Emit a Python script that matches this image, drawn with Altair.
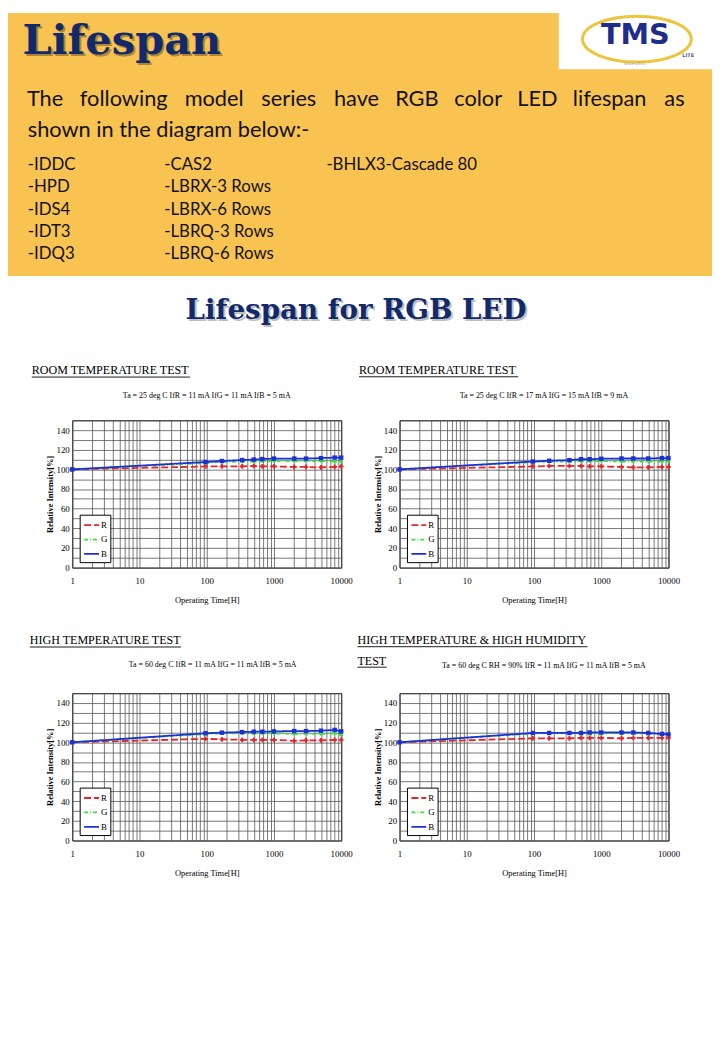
import altair as alt
import pandas as pd

# ---------------- data ----------------
hours = [1, 96, 168, 336, 500, 672, 1000, 2000, 3000, 5000, 8000, 10000]

p1_R = [100, 103, 103, 103, 103.5, 103, 103, 102.5, 102.5, 102, 102.5, 103]
p1_G = [100, 106.5, 107.5, 108, 108, 108.5, 108.5, 108.5, 108.5, 108.5, 108, 108]
p1_B = [100, 107.5, 108.5, 109.5, 110, 110.5, 111, 111, 111, 111.5, 112, 112]

p2_R = [100, 103, 103.5, 103.5, 103.5, 103, 103, 102.5, 102, 102, 102.5, 102.5]
p2_G = [100, 107.5, 108, 108, 108.5, 108.5, 108.5, 108, 108, 108, 108, 108]
p2_B = [100, 108, 108.8, 109.4, 110.4, 110.4, 110.8, 111.1, 111.1, 111.1, 111.5, 111.5]

p3_R = [100, 103.5, 103, 102.5, 102.5, 102.5, 102.5, 101.5, 102, 102, 102.5, 102.5]
p3_G = [100, 108.5, 109, 109, 109, 109, 109, 108.5, 108.5, 108.5, 109, 107.5]
p3_B = [100, 109.2, 109.8, 110.4, 110.8, 110.8, 111.1, 111.4, 111.4, 111.8, 112.6, 111.1]

p4_R = [100, 104, 104, 104, 104.5, 104.5, 104.5, 104, 104.5, 104.5, 104.5, 104.5]
p4_G = [100, 109, 109, 109, 109, 109, 109, 109, 109, 109, 108, 108]
p4_B = [100, 109.5, 109.5, 109.5, 109.5, 110, 110, 110, 110, 109.5, 108.5, 108]

series_names = ["R", "G", "B"]

panel_titles = [
    ["ROOM TEMPERATURE TEST"],
    ["ROOM TEMPERATURE TEST"],
    ["HIGH TEMPERATURE TEST"],
    ["HIGH TEMPERATURE & HIGH HUMIDITY", "TEST"],
]
panel_conditions = [
    "Ta = 25 deg C  IfR = 11 mA IfG = 11 mA IfB = 5 mA",
    "Ta = 25 deg C  IfR = 17 mA IfG = 15 mA IfB = 9 mA",
    "Ta = 60 deg C  IfR = 11 mA IfG = 11 mA IfB = 5 mA",
    "Ta = 60 deg C RH = 90%  IfR = 11 mA IfG = 11 mA IfB = 5 mA",
]

x_tick_labels = ["1", "10", "100", "1000", "10000"]
y_label_values = [0, 20, 40, 60, 80, 100, 120, 140]

heading = "Lifespan"
intro_line1 = ["The", "following", "model", "series", "have", "RGB", "color", "LED", "lifespan", "as"]
intro_line2 = "shown in the diagram below:-"
models_col1 = ["-IDDC", "-HPD", "-IDS4", "-IDT3", "-IDQ3"]
models_col2 = ["-CAS2", "-LBRX-3 Rows", "-LBRX-6 Rows", "-LBRQ-3 Rows", "-LBRQ-6 Rows"]
models_col3 = ["-BHLX3-Cascade 80"]
section_title = "Lifespan for RGB LED"

# ---------------- styles ----------------
YELLOW = "#F9C352"
NAVY = "#12296B"
COLORS = {"R": "#E8242A", "G": "#3CE03C", "B": "#1B30D8"}
DASHES = {"R": [7, 3], "G": [4, 2, 1, 2], "B": [1, 0]}
SHAPES = {"R": "cross", "G": "cross", "B": "square"}
SIZES = {"R": 22, "G": 14, "B": 20}
SERIF = "Liberation Serif"
GRID = "#555555"

one = pd.DataFrame({"k": [0]})


def txt(s, x, y, size, font=SERIF, weight="normal", color="black",
        align="left", baseline="alphabetic", opacity=1.0):
    return alt.Chart(one).mark_text(
        text=s, fontSize=size, font=font, fontWeight=weight, color=color,
        align=align, baseline=baseline, opacity=opacity
    ).encode(x=alt.value(x), y=alt.value(y))


def hline(x1, x2, y, color="black", w=1.0, dash=None):
    kw = {}
    if dash is not None:
        kw["strokeDash"] = dash
    return alt.Chart(one).mark_rule(color=color, strokeWidth=w, **kw).encode(
        x=alt.value(x1), x2=alt.value(x2), y=alt.value(y))


def box(x1, x2, y1, y2, fill, stroke=None, sw=0.0):
    kw = dict(fill=fill)
    if stroke is not None:
        kw.update(stroke=stroke, strokeWidth=sw)
    return alt.Chart(one).mark_rect(**kw).encode(
        x=alt.value(x1), x2=alt.value(x2), y=alt.value(y1), y2=alt.value(y2))


x_grid = [m * 10 ** k for k in range(4) for m in range(1, 10)] + [10000]
y_grid = list(range(0, 151, 10))

label_test = " || ".join(f"datum.value == {v}" for v in x_tick_labels)
y_label_test = " || ".join(f"datum.value == {v}" for v in y_label_values)

x_axis = alt.Axis(
    values=x_grid, format="d",
    labelExpr=f"({label_test}) ? datum.label : ''",
    labelOverlap=False, labelFlush=False, ticks=False, domain=False,
    grid=True, gridColor=GRID, gridWidth=0.8,
    labelFont=SERIF, labelFontSize=9, labelColor="black", labelPadding=9,
    title="Operating Time[H]", titleFont=SERIF, titleFontSize=8.5,
    titleFontWeight="normal", titleColor="black", titlePadding=10,
)
y_axis = alt.Axis(
    values=y_grid,
    labelExpr=f"({y_label_test}) ? datum.label : ''",
    labelOverlap=False, ticks=False, domain=False,
    grid=True, gridColor=GRID, gridWidth=0.8,
    labelFont=SERIF, labelFontSize=9, labelColor="black", labelPadding=3,
    title="Relative Intensity[%]", titleFont=SERIF, titleFontSize=8.5,
    titleFontWeight="bold", titleColor="black", titlePadding=1,
)

PW, PH = 272, 149


def panel(vals, title_lines, title_x, title_ys, underlines, cond, cond_x, cond_y):
    layers = []
    for s in series_names:
        df = pd.DataFrame({"hours": hours, "value": vals[s]})
        base = alt.Chart(df).encode(
            x=alt.X("hours:Q", scale=alt.Scale(type="log", domain=[1, 10000], nice=False), axis=x_axis),
            y=alt.Y("value:Q", scale=alt.Scale(domain=[0, 150], nice=False), axis=y_axis),
        )
        layers.append(base.mark_line(color=COLORS[s], strokeDash=DASHES[s], strokeWidth=1.8))
        layers.append(base.mark_point(shape=SHAPES[s], filled=True, size=SIZES[s],
                                      color=COLORS[s], opacity=1))
    # legend box
    layers.append(box(8, 39, 96, 144, "white", "black", 1))
    for i, s in enumerate(series_names):
        yy = 106 + 14.6 * i
        layers.append(hline(12, 27, yy, COLORS[s], 1.8, DASHES[s]))
        layers.append(txt(s, 29, yy, 9, baseline="middle"))
    # titles
    for line, ty, (ux2, uy) in zip(title_lines, title_ys, underlines):
        layers.append(txt(line, title_x, ty, 12.2))
        layers.append(hline(title_x, ux2, uy, "black", 0.9))
    layers.append(txt(cond, cond_x, cond_y, 8, align="center", baseline="middle"))
    return alt.layer(*layers).properties(
        width=PW, height=PH, view=alt.ViewBackground(stroke="black", strokeWidth=1))


p1 = panel({"R": p1_R, "G": p1_G, "B": p1_B}, panel_titles[0], -41, [-46.5], [(119, -43.7)],
           panel_conditions[0], 136, -25)
p2 = panel({"R": p2_R, "G": p2_G, "B": p2_B}, panel_titles[1], -41, [-46.5], [(120, -44)],
           panel_conditions[1], 146, -25)
p3 = panel({"R": p3_R, "G": p3_G, "B": p3_B}, panel_titles[2], -43, [-49.3], [(110, -46.7)],
           panel_conditions[2], 142, -28)
p4 = panel({"R": p4_R, "G": p4_G, "B": p4_B}, panel_titles[3], -42.6, [-49.3, -28.7],
           [(190, -47), (-13, -26.3)], panel_conditions[3], 146, -27)

# ---------------- header (drawn from the first, narrow grid cell) ----------------
OY = -412  # header coordinates are relative to the top of the first plot row

hdr = [
    box(0, 712, 0 + OY, 266 + OY, YELLOW),
    box(557, 712, 0 + OY, 57 + OY, "white"),
    alt.Chart(one).mark_point(
        shape="M -1 0 A 1 0.42 0 1 1 1 0 A 1 0.42 0 1 1 -1 0 Z",
        size=110 ** 2, filled=False, stroke="#EDC43E", strokeWidth=3,
        strokeJoin="round", opacity=1
    ).encode(x=alt.value(636), y=alt.value(26.5 + OY)),
    txt("TMS", 634.5, 22 + OY, 29, font="DejaVu Sans", weight="bold", color="#1E2C8C",
        align="center", baseline="middle"),
    txt("LITE", 682, 43 + OY, 5, font="DejaVu Sans", weight="bold", color="#555577",
        baseline="middle"),
    txt("since 2011", 634, 52 + OY, 4, font="DejaVu Sans", color="#999999", align="center",
        baseline="middle"),
    txt(heading, 16.7, 44 + OY, 42, font="DejaVu Serif", weight="bold", color="#000000", opacity=0.3),
    txt(heading, 14.7, 42 + OY, 42, font="DejaVu Serif", weight="bold", color=NAVY),
]
word_centers = [37.5, 117, 208.5, 284, 352.5, 413.5, 475.5, 535.5, 608.5, 674]
for w, cx in zip(intro_line1, word_centers):
    hdr.append(txt(w, cx, 94 + OY, 22, font="Lato", color="#111111", align="center"))
hdr.append(txt(intro_line2, 20, 125 + OY, 22, font="Lato", color="#111111"))
for col, cx in [(models_col1, 20), (models_col2, 158), (models_col3, 322)]:
    for i, m in enumerate(col):
        hdr.append(txt(m, cx, 159 + 22.5 * i + OY, 17, font="Lato", color="#111111"))
hdr.append(txt(section_title, 354, 312 + OY, 28, font="DejaVu Serif", weight="bold",
               color="#000000", align="center", opacity=0.25))
hdr.append(txt(section_title, 352, 310 + OY, 28, font="DejaVu Serif", weight="bold",
               color=NAVY, align="center"))

cell_a = alt.layer(*hdr).properties(width=6, height=PH, view=alt.ViewBackground(stroke=None))
cell_b = alt.Chart(one).mark_text(text=" ", fontSize=1).encode(
    x=alt.value(3), y=alt.value(50)).properties(width=6, height=PH, view=alt.ViewBackground(stroke=None))

chart = alt.concat(
    cell_a, p1, p2, cell_b, p3, p4,
    columns=3, spacing={"row": 127, "column": 59}, bounds="flush"
).properties(padding=0).configure_view(stroke=None)

chart.save("out.html", embed_options={"renderer": "svg", "actions": False})
